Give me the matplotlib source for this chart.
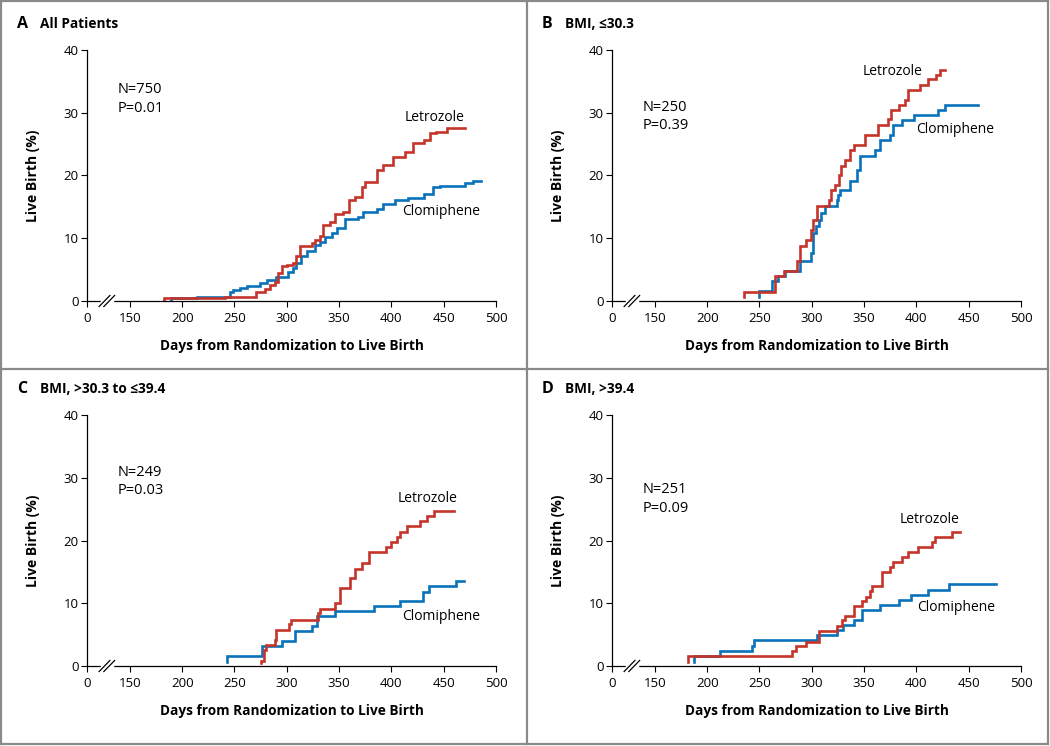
import matplotlib
matplotlib.use("Agg")
import matplotlib.pyplot as plt
from matplotlib.lines import Line2D

plt.rcParams["font.family"] = ["Open Sans", "DejaVu Sans"]

# broken x axis: the "0" tick sits where this day would be
AXIS_ZERO = 109
x_ticks = [150, 200, 250, 300, 350, 400, 450, 500]
y_ticks = [0, 10, 20, 30, 40]

# Panel A - all patients
a_let_days = [183, 183, 241, 271, 279, 284, 289, 292, 295, 300, 306, 309, 313, 324, 327, 332, 335,
              341, 346, 354, 359, 365, 372, 375, 386, 392, 402, 413, 421, 431, 437, 443, 453, 470]
a_let_pct = [0.1, 0.4, 0.7, 1.5, 1.9, 2.5, 3.1, 4.4, 5.5, 5.8, 6.1, 7.1, 8.7, 9.2, 9.7, 10.3, 12.1,
             12.6, 13.8, 14.2, 16.1, 16.6, 18.2, 19.0, 20.8, 21.6, 22.9, 23.8, 25.1, 25.7, 26.7, 26.9, 27.6, 27.6]
a_clo_days = [189, 189, 214, 246, 249, 255, 262, 274, 281, 290, 301, 306, 309, 314, 319, 327, 332,
              337, 343, 348, 356, 368, 373, 386, 392, 403, 416, 431, 440, 446, 470, 478, 486]
a_clo_pct = [0.1, 0.5, 0.7, 1.5, 1.75, 2.0, 2.4, 2.8, 3.4, 3.9, 4.7, 5.2, 6.0, 7.1, 7.9, 8.9, 9.4,
             10.2, 10.8, 11.6, 13.0, 13.4, 14.2, 14.7, 15.5, 16.1, 16.4, 17.0, 18.1, 18.4, 18.8, 19.2, 19.2]

# Panel B - BMI <=30.3
b_let_days = [235, 235, 265, 273, 286, 289, 294, 299, 301, 305, 316, 318, 322, 326, 328, 332, 337,
              340, 351, 363, 373, 376, 383, 389, 392, 403, 411, 419, 423, 427]
b_let_pct = [0.7, 1.5, 4.0, 4.8, 6.3, 8.8, 9.7, 11.3, 12.9, 15.2, 16.1, 17.7, 18.5, 20.0, 21.5, 22.4, 24.0,
             24.8, 26.4, 28.0, 29.0, 30.4, 31.2, 32.1, 33.7, 34.5, 35.3, 36.0, 36.8, 36.8]
b_clo_days = [250, 250, 262, 268, 274, 289, 299, 301, 304, 307, 309, 313, 324, 325, 327, 337, 343,
              346, 360, 365, 375, 378, 386, 398, 421, 427, 459]
b_clo_pct = [0.7, 1.6, 3.2, 4.0, 4.8, 6.4, 7.6, 10.8, 12.0, 12.9, 14.0, 15.2, 16.1, 16.9, 17.7, 19.2, 20.8,
             23.1, 24.0, 25.6, 26.4, 28.0, 28.8, 29.7, 30.4, 31.2, 31.2]

# Panel C - BMI >30.3 to <=39.4
c_let_days = [275, 275, 278, 280, 289, 290, 302, 304, 330, 332, 346, 351, 360, 365, 372, 379, 395,
              400, 405, 408, 415, 427, 434, 441, 460]
c_let_pct = [0.4, 0.8, 2.5, 3.3, 4.1, 5.7, 6.7, 7.4, 8.4, 9.1, 10.0, 12.4, 14.0, 15.5, 16.4, 18.1, 19.0,
             19.8, 20.6, 21.4, 22.3, 23.1, 23.9, 24.7, 24.7]
c_clo_days = [243, 243, 276, 295, 308, 324, 329, 346, 383, 408, 430, 436, 462, 469]
c_clo_pct = [0.7, 1.6, 3.2, 4.0, 5.6, 6.4, 8.0, 8.8, 9.5, 10.3, 11.8, 12.7, 13.5, 13.5]

# Panel D - BMI >39.4
d_let_days = [182, 182, 281, 285, 294, 307, 324, 329, 332, 340, 348, 352, 356, 358, 367, 375, 378,
              386, 392, 402, 415, 418, 434, 442]
d_let_pct = [0.7, 1.6, 2.4, 3.2, 3.9, 5.6, 6.4, 7.3, 8.0, 9.5, 10.3, 11.0, 12.0, 12.7, 15.0, 15.8, 16.6,
             17.4, 18.2, 19.0, 19.8, 20.6, 21.3, 21.3]
d_clo_days = [187, 187, 212, 243, 245, 305, 324, 330, 340, 348, 365, 383, 395, 411, 431, 476]
d_clo_pct = [0.7, 1.6, 2.4, 3.2, 4.1, 4.9, 5.7, 6.5, 7.3, 8.9, 9.7, 10.5, 11.3, 12.1, 13.0, 13.0]

panel_letters = ["A", "B", "C", "D"]
panel_titles = ["All Patients", "BMI, \u226430.3", "BMI, >30.3 to \u226439.4", "BMI, >39.4"]
n_texts = ["N=750", "N=250", "N=249", "N=251"]
p_texts = ["P=0.01", "P=0.39", "P=0.03", "P=0.09"]

RED = "#C5342A"
BLUE = "#0A72BA"
GRAY = "#8a8a8a"

W, H = 1050, 746
fig = plt.figure(figsize=(W / 100, H / 100), dpi=100)


def px_rect(x0, y_top, x1, y_bottom):
    return [x0 / W, 1 - y_bottom / H, (x1 - x0) / W, (y_bottom - y_top) / H]


axes_px = [(87, 50, 496, 301), (612, 50, 1021, 301), (87, 415, 496, 666), (612, 415, 1021, 666)]
title_px = [(17, 40, 24), (542, 565, 24), (17, 40, 389), (542, 565, 389)]

# where the N/P text and the curve labels sit (data coords)
np_pos = [(138, 33.7, 30.7), (138, 30.9, 27.9), (138, 30.9, 28.0), (138, 28.1, 25.1)]
let_label = [(441, 29.3), (377, 36.5), (435, 26.7), (413, 23.4)]
clo_label = [(448, 14.2), (437, 27.4), (448, 7.9), (438, 9.4)]

series = [
    (a_let_days, a_let_pct, a_clo_days, a_clo_pct),
    (b_let_days, b_let_pct, b_clo_days, b_clo_pct),
    (c_let_days, c_let_pct, c_clo_days, c_clo_pct),
    (d_let_days, d_let_pct, d_clo_days, d_clo_pct),
]

for i in range(4):
    ax = fig.add_axes(px_rect(*axes_px[i]))
    let_d, let_p, clo_d, clo_p = series[i]
    ax.step(clo_d, clo_p, where="post", color=BLUE, lw=1.9, solid_joinstyle="miter")
    ax.step(let_d, let_p, where="post", color=RED, lw=1.9, solid_joinstyle="miter")

    ax.set_xlim(AXIS_ZERO, 500)
    ax.set_ylim(0, 40)
    ax.set_xticks([AXIS_ZERO] + x_ticks)
    ax.set_xticklabels(["0"] + [str(t) for t in x_ticks])
    ax.set_yticks(y_ticks)
    ax.tick_params(axis="x", direction="out", length=4, width=0.8, pad=4, labelsize=9.5)
    ax.tick_params(axis="y", direction="out", length=4.5, width=0.8, pad=1.5, labelsize=9.5)
    for s in ["top", "right"]:
        ax.spines[s].set_visible(False)
    for s in ["left", "bottom"]:
        ax.spines[s].set_linewidth(0.9)

    ax.set_xlabel("Days from Randomization to Live Birth", fontsize=9.8, fontweight="bold")
    ax.set_ylabel("Live Birth (%)", fontsize=10, fontweight="bold")
    ax.xaxis.set_label_coords(0.5, -0.15)
    ax.yaxis.set_label_coords(-0.115, 0.5)

    # axis break marks
    tr = ax.get_xaxis_transform()
    ax.plot([123.5, 132.5], [0, 0], color="white", lw=2.5, transform=tr, clip_on=False, zorder=5)
    ax.plot([120.6, 130.9], [-0.022, 0.022], color="black", lw=0.9, transform=tr, clip_on=False, zorder=6)
    ax.plot([125.1, 135.4], [-0.022, 0.022], color="black", lw=0.9, transform=tr, clip_on=False, zorder=6)

    nx, ny, py = np_pos[i]
    ax.text(nx, ny, n_texts[i], fontsize=10.5, ha="left", va="center")
    ax.text(nx, py, p_texts[i], fontsize=10.5, ha="left", va="center")
    ax.text(let_label[i][0], let_label[i][1], "Letrozole", fontsize=10, ha="center", va="center")
    ax.text(clo_label[i][0], clo_label[i][1], "Clomiphene", fontsize=10, ha="center", va="center")

    lx, tx, ty = title_px[i]
    fig.text(lx / W, 1 - ty / H, panel_letters[i], fontsize=11.5, fontweight="bold", ha="left", va="center")
    fig.text(tx / W, 1 - ty / H, panel_titles[i], fontsize=9.8, fontweight="bold", ha="left", va="center")

# panel frames
frame = [((1, 1), (1, H - 2)), ((W - 2, W - 2), (1, H - 2)), ((1, W - 2), (1, 1)),
         ((1, W - 2), (H - 2, H - 2)), ((527, 527), (1, H - 2)), ((1, W - 2), (369, 369))]
for xs, ys in frame:
    fig.add_artist(Line2D([x / W for x in xs], [1 - y / H for y in ys], color=GRAY, lw=1.6))

fig.savefig("out.png", dpi=100)
